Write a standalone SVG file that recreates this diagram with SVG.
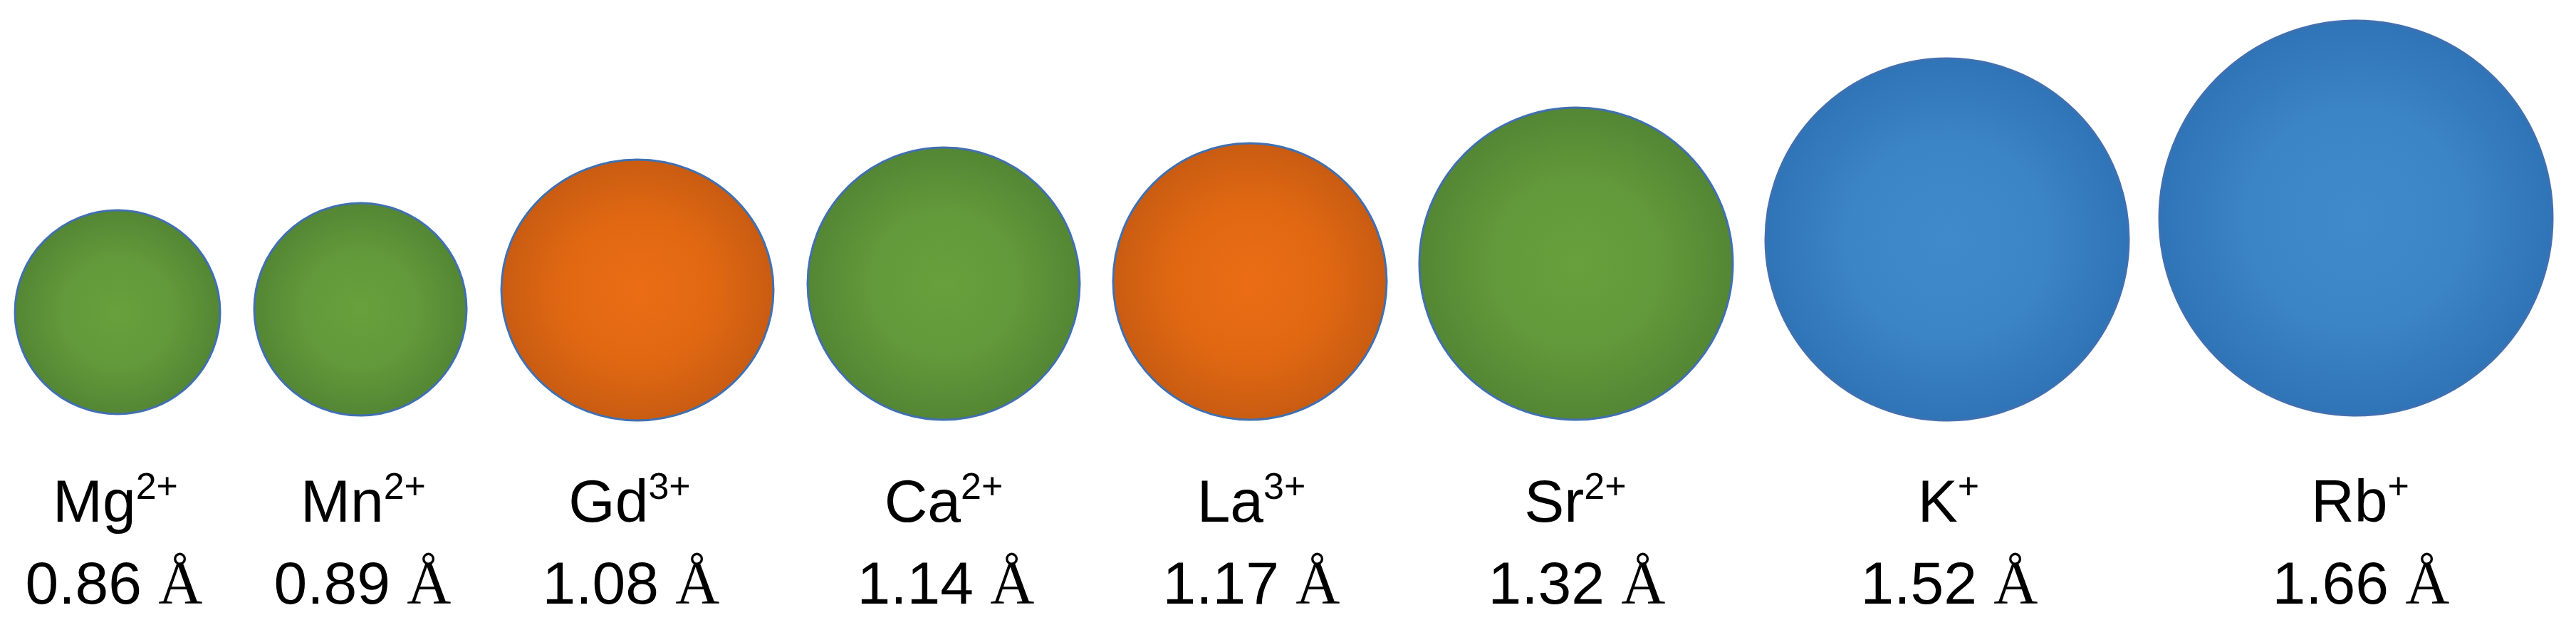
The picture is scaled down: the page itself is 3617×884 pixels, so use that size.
<svg xmlns="http://www.w3.org/2000/svg" width="3617" height="884" viewBox="0 0 3617 884">
<defs>
<radialGradient id="gGreen" cx="50%" cy="50%" r="50%">
<stop offset="0" stop-color="#67A03D"/>
<stop offset="0.55" stop-color="#62993A"/>
<stop offset="1" stop-color="#548634"/>
</radialGradient>
<radialGradient id="gOrange" cx="50%" cy="50%" r="50%">
<stop offset="0" stop-color="#EA6D14"/>
<stop offset="0.55" stop-color="#E16812"/>
<stop offset="1" stop-color="#C95C12"/>
</radialGradient>
<radialGradient id="gBlue" cx="50%" cy="50%" r="50%">
<stop offset="0" stop-color="#408ACB"/>
<stop offset="0.55" stop-color="#3B84C6"/>
<stop offset="1" stop-color="#2F74B6"/>
</radialGradient>
</defs>
<style>
.ion{stroke:#4170B0;stroke-width:3}
.g{fill:url(#gGreen)}
.o{fill:url(#gOrange)}
.b{fill:url(#gBlue)}
.lbl{font-family:"Liberation Sans",Arial,sans-serif;font-size:84px;fill:#000;text-anchor:middle}
.sup{font-size:52px}
.ang{font-family:"Liberation Serif","Times New Roman",serif;font-size:86px}
</style>
<rect width="3617" height="884" fill="#FFFFFF"/>
<g id="connectors"></g>
<g id="Mg">
<ellipse class="ion g" cx="165" cy="438" rx="144" ry="143"/>
<text class="lbl" x="162" y="732">Mg<tspan class="sup" dy="-32">2+</tspan></text>
<text class="lbl" x="160" y="847">0.86 <tspan class="ang">Å</tspan></text>
</g>
<g id="Mn">
<ellipse class="ion g" cx="506" cy="434" rx="149" ry="149"/>
<text class="lbl" x="510" y="732">Mn<tspan class="sup" dy="-32">2+</tspan></text>
<text class="lbl" x="509" y="847">0.89 <tspan class="ang">Å</tspan></text>
</g>
<g id="Gd">
<ellipse class="ion o" cx="895" cy="407" rx="191" ry="183"/>
<text class="lbl" x="884" y="732">Gd<tspan class="sup" dy="-32">3+</tspan></text>
<text class="lbl" x="886" y="847">1.08 <tspan class="ang">Å</tspan></text>
</g>
<g id="Ca">
<ellipse class="ion g" cx="1325" cy="398" rx="191" ry="191"/>
<text class="lbl" x="1325" y="732">Ca<tspan class="sup" dy="-32">2+</tspan></text>
<text class="lbl" x="1328" y="847">1.14 <tspan class="ang">Å</tspan></text>
</g>
<g id="La">
<ellipse class="ion o" cx="1755" cy="395" rx="192" ry="194"/>
<text class="lbl" x="1757" y="732">La<tspan class="sup" dy="-32">3+</tspan></text>
<text class="lbl" x="1757" y="847">1.17 <tspan class="ang">Å</tspan></text>
</g>
<g id="Sr">
<ellipse class="ion g" cx="2213" cy="370" rx="220" ry="219"/>
<text class="lbl" x="2212" y="732">Sr<tspan class="sup" dy="-32">2+</tspan></text>
<text class="lbl" x="2214" y="847">1.32 <tspan class="ang">Å</tspan></text>
</g>
<g id="K">
<ellipse class="ion b" cx="2734" cy="336" rx="255" ry="254"/>
<text class="lbl" x="2736" y="732">K<tspan class="sup" dy="-32">+</tspan></text>
<text class="lbl" x="2737" y="847">1.52 <tspan class="ang">Å</tspan></text>
</g>
<g id="Rb">
<ellipse class="ion b" cx="3308" cy="306" rx="276" ry="277"/>
<text class="lbl" x="3314" y="732">Rb<tspan class="sup" dy="-32">+</tspan></text>
<text class="lbl" x="3315" y="847">1.66 <tspan class="ang">Å</tspan></text>
</g>
</svg>
